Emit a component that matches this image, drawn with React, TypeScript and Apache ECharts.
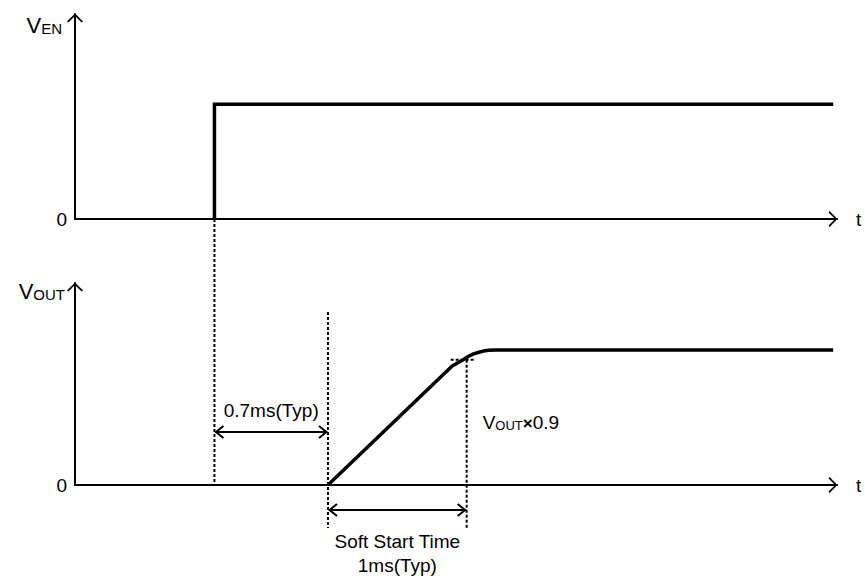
import React, { useEffect, useRef } from "react";
import * as echarts from "echarts";

const FONT = '"Liberation Sans", Arial, Helvetica, sans-serif';

// time axis in arbitrary (schematic) units
const X_MAX = 100;
// V_EN waveform
const enTimes = [18.3, 18.3, 99.5];
const enLevels = [0, 0.56, 0.56];
// V_OUT waveform (soft start ramp with rounded knee)
const outTimes = [33.2, 49.5, 50.3, 51.0, 51.6, 52.3, 53.0, 53.6, 54.3, 55.2, 99.5];
const outLevels = [0, 0.589, 0.606, 0.621, 0.636, 0.649, 0.657, 0.663, 0.667, 0.668, 0.668];
// timing markers
const T_EN = 18.3;
const T_SS = 33.2;
const T_90 = 51.4;
const V_90 = 0.62;
// axis names / labels
const yNames = ["EN", "OUT"];
const xName = "t";
const zeroLabel = "0";
const delayLabel = "0.7ms(Typ)";
const ssLabels = ["Soft Start Time", "1ms(Typ)"];
const v90Label = ["V", "OUT", "×", "0.9"];

export default function App() {
  const ref = useRef<HTMLDivElement>(null);

  useEffect(() => {
    if (!ref.current) return;
    const chart = echarts.init(ref.current, null, { renderer: "svg" });

    const axisLine = {
      show: true,
      onZero: false,
      symbol: ["none", "path://M8,0 L16,8 L14.6,9 L8,2.4 L1.4,9 L0,8 Z"],
      symbolSize: [16, 9],
      symbolOffset: [0, -4],
      lineStyle: { color: "#000", width: 2 },
    };

    const rich = {
      v: { fontSize: 22, fontFamily: FONT, color: "#000", verticalAlign: "bottom" },
      s: { fontSize: 15, fontFamily: FONT, color: "#000", verticalAlign: "bottom" },
    };

    const option: any = {
      animation: false,
      backgroundColor: "#fff",
      grid: [
        { left: 75, right: 28, top: 14, height: 205 },
        { left: 75, right: 28, top: 283, height: 202 },
      ],
      xAxis: [0, 1].map((i) => ({
        gridIndex: i,
        type: "value",
        min: 0,
        max: X_MAX,
        name: xName,
        nameLocation: "end",
        nameGap: 19,
        nameTextStyle: { fontSize: 19, color: "#000", fontFamily: FONT, align: "left", verticalAlign: "middle" },
        axisLine,
        axisTick: { show: false },
        axisLabel: { show: false },
        splitLine: { show: false },
      })),
      yAxis: [0, 1].map((i) => ({
        gridIndex: i,
        type: "value",
        min: 0,
        max: 1,
        interval: 1,
        name: `{v|V}{s|${yNames[i]}}`,
        nameLocation: "end",
        nameGap: i === 0 ? -11 : -8,
        nameTextStyle: {
          align: "right",
          verticalAlign: "middle",
          padding: [0, i === 0 ? 13 : 10, 0, 0],
          rich,
        },
        axisLine,
        axisTick: { show: false },
        splitLine: { show: false },
        axisLabel: {
          formatter: (v: number) => (v === 0 ? zeroLabel : ""),
          fontSize: 19,
          color: "#000",
          fontFamily: FONT,
          margin: 8,
        },
      })),
      series: [
        {
          type: "line",
          xAxisIndex: 0,
          yAxisIndex: 0,
          data: enTimes.map((t, i) => [t, enLevels[i]]),
          symbol: "none",
          lineStyle: { color: "#000", width: 3.5, join: "miter" },
          z: 5,
        },
        {
          type: "line",
          xAxisIndex: 1,
          yAxisIndex: 1,
          data: outTimes.map((t, i) => [t, outLevels[i]]),
          symbol: "none",
          lineStyle: { color: "#000", width: 3.5, join: "round" },
          z: 5,
        },
      ],
    };
    chart.setOption(option);

    const p = (g: number, x: number, y: number) =>
      chart.convertToPixel({ gridIndex: g } as any, [x, y]) as number[];

    const dotted = (a: number[], b: number[]) => ({
      type: "line",
      silent: true,
      z: 1,
      shape: { x1: a[0], y1: a[1], x2: b[0], y2: b[1] },
      style: { stroke: "#000", lineWidth: 2, lineDash: [3, 2] },
    });

    const dimArrow = (a: number[], b: number[]) => [
      {
        type: "line",
        silent: true,
        z: 3,
        shape: { x1: a[0] + 1, y1: a[1], x2: b[0] - 1, y2: b[1] },
        style: { stroke: "#000", lineWidth: 2 },
      },
      {
        type: "polyline",
        silent: true,
        z: 3,
        shape: { points: [[a[0] + 9, a[1] - 6], [a[0] + 1.5, a[1]], [a[0] + 9, a[1] + 6]] },
        style: { stroke: "#000", lineWidth: 2, fill: null },
      },
      {
        type: "polyline",
        silent: true,
        z: 3,
        shape: { points: [[b[0] - 9, b[1] - 6], [b[0] - 1.5, b[1]], [b[0] - 9, b[1] + 6]] },
        style: { stroke: "#000", lineWidth: 2, fill: null },
      },
    ];

    const text = (x: number, y: number, t: string, align = "center") => ({
      type: "text",
      silent: true,
      z: 4,
      x,
      y,
      style: { text: t, fontSize: 19, fontFamily: FONT, fill: "#000", align, verticalAlign: "middle" },
    });

    const enTop = p(0, T_EN, 0);
    const enBot = p(1, T_EN, 0);
    const ssTop = p(1, T_SS, 0.856);
    const ssBot = p(1, T_SS, -0.213);
    const v90Top = p(1, T_90, V_90);
    const v90Bot = p(1, T_90, -0.213);
    const hA = p(1, 49.3, V_90);
    const hB = p(1, 52.6, V_90);
    const d1a = p(1, T_EN, 0.262);
    const d1b = p(1, T_SS, 0.262);
    const d2a = p(1, T_SS, -0.124);
    const d2b = p(1, T_90, -0.124);

    chart.setOption({
      graphic: [
        dotted(enTop, enBot),
        dotted(ssTop, ssBot),
        dotted(v90Top, v90Bot),
        dotted(hA, hB),
        ...dimArrow(d1a, d1b),
        ...dimArrow(d2a, d2b),
        text((d1a[0] + d1b[0]) / 2, d1a[1] - 22, delayLabel),
        text((d2a[0] + d2b[0]) / 2, d2a[1] + 31, ssLabels[0]),
        text((d2a[0] + d2b[0]) / 2, d2a[1] + 55, ssLabels[1]),
        {
          type: "text",
          silent: true,
          z: 4,
          x: v90Top[0] + 16,
          y: v90Top[1] + 63,
          style: {
            text: `{v|${v90Label[0]}}{s|${v90Label[1]}}{m|${v90Label[2]}}{v|${v90Label[3]}}`,
            align: "left",
            verticalAlign: "middle",
            rich: {
              v: { fontSize: 19, fontFamily: FONT, fill: "#000", verticalAlign: "bottom" },
              s: { fontSize: 13, fontFamily: FONT, fill: "#000", verticalAlign: "bottom" },
              m: { fontSize: 17, fontFamily: FONT, fill: "#000", fontWeight: "bold", verticalAlign: "bottom" },
            },
          },
        },
      ],
    });

    return () => chart.dispose();
  }, []);

  return (
    <div
      ref={ref}
      style={{ position: "fixed", left: 0, top: 0, width: 865, height: 576, background: "#fff" }}
    />
  );
}
